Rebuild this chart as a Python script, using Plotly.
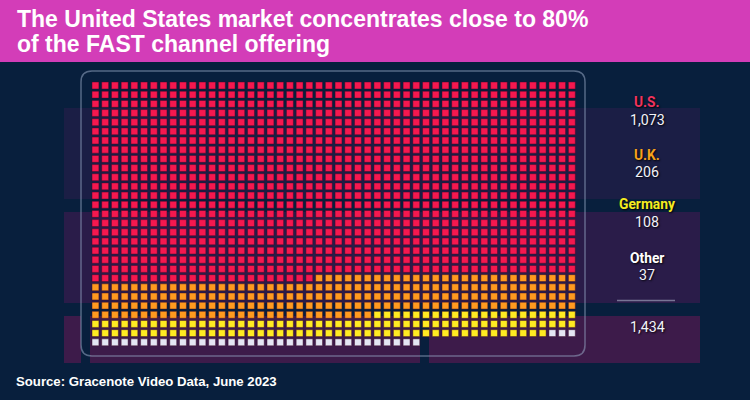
import plotly.graph_objects as go

W, H = 750, 400

# ---- data -------------------------------------------------------------
countries = ["U.S.", "U.K.", "Germany", "Other"]
channel_counts = [1073, 206, 108, 37]          # numbers printed in the legend
total_channels = 1434                           # total printed in the legend
squares_drawn = [1073, 206, 118, 37]           # squares counted in the waffle
square_colors = ["#F5184F", "#FF9A1F", "#FFEB22", "#E4E6F4"]
label_colors = ["#F0335F", "#F7A21B", "#F4EC20", "#FFFFFF"]
n_cols = 50

title_lines = ["The United States market concentrates close to 80%",
               "of the FAST channel offering"]
source_text = "Source: Gracenote Video Data, June 2023"


def fx(x):
    return x / W


def fy(y):
    return 1 - y / H


fig = go.Figure()

start = 0
for name, n, c in zip(countries, squares_drawn, square_colors):
    idx = list(range(start, start + n))
    fig.add_trace(go.Scatter(
        x=[i % n_cols for i in idx],
        y=[i // n_cols for i in idx],
        mode="markers",
        name=name,
        hoverinfo="skip",
        marker=dict(symbol="square", size=6.9, color=c,
                    line=dict(width=1, color="rgba(60,8,40,0.45)")),
    ))
    start += n
n_rows = -(-start // n_cols)

shapes = []
# banner
shapes.append(dict(type="rect", xref="paper", yref="paper", x0=0, x1=1,
                   y0=fy(62), y1=1, fillcolor="#D33DB8", line_width=0, layer="below"))


def panel(x0, x1, y0, y1, color):
    shapes.append(dict(type="rect", xref="paper", yref="paper",
                       x0=fx(x0), x1=fx(x1), y0=fy(y1), y1=fy(y0),
                       fillcolor=color, line_width=0, layer="below"))


panel(64, 700, 108, 199, "#1B1E45")
panel(64, 700, 212, 303, "#2A1C49")
panel(64, 81, 316, 363, "#3D1B4A")
panel(90, 420, 316, 363, "#3D1B4A")
panel(429, 700, 316, 363, "#3D1B4A")


def rounded_rect(x0, y0, x1, y1, r):
    pts = [
        ("M", [(x0 + r, y0)]),
        ("L", [(x1 - r, y0)]),
        ("Q", [(x1, y0), (x1, y0 + r)]),
        ("L", [(x1, y1 - r)]),
        ("Q", [(x1, y1), (x1 - r, y1)]),
        ("L", [(x0 + r, y1)]),
        ("Q", [(x0, y1), (x0, y1 - r)]),
        ("L", [(x0, y0 + r)]),
        ("Q", [(x0, y0), (x0 + r, y0)]),
    ]
    s = ""
    for cmd, ps in pts:
        s += cmd + " ".join(f"{fx(a):.5f},{fy(b):.5f}" for a, b in ps) + " "
    return s + "Z"


shapes.append(dict(type="path", xref="paper", yref="paper",
                   path=rounded_rect(81, 71, 585, 356, 11),
                   line=dict(color="rgba(150,165,195,0.55)", width=1.5),
                   fillcolor="rgba(0,0,0,0)", layer="below"))

# separator line above the total
shapes.append(dict(type="line", xref="paper", yref="paper",
                   x0=fx(617), x1=fx(675), y0=fy(300.5), y1=fy(300.5),
                   line=dict(color="rgba(140,140,170,0.8)", width=1.5)))

annotations = []
title_font = dict(family="Liberation Sans, Arial, sans-serif",
                  size=23, color="white", weight="bold")
for i, line in enumerate(title_lines):
    annotations.append(dict(text=line, xref="paper", yref="paper", x=fx(15), y=fy(18.5 + 25 * i),
                            xanchor="left", yanchor="middle", showarrow=False, font=title_font))

annotations.append(dict(text=source_text, xref="paper", yref="paper", x=fx(14), y=fy(381),
                        xanchor="left", yanchor="middle", showarrow=False,
                        font=dict(family="Liberation Sans, Arial, sans-serif",
                                  size=13.2, color="white", weight="bold")))

label_y = [(102, 120), (154.5, 172), (204, 221.5), (257.5, 275)]
shadow = "1px 1px 2px rgba(0,0,0,0.9)"
for name, cnt, col, (ly, ny) in zip(countries, channel_counts, label_colors, label_y):
    annotations.append(dict(text=name, xref="paper", yref="paper", x=fx(647), y=fy(ly),
                            xanchor="center", yanchor="middle", showarrow=False,
                            font=dict(family="Roboto, Inter, sans-serif", size=13.8,
                                      color=col, weight="bold", shadow=shadow)))
    annotations.append(dict(text=f"{cnt:,}", xref="paper", yref="paper", x=fx(647), y=fy(ny),
                            xanchor="center", yanchor="middle", showarrow=False,
                            font=dict(family="Roboto, Inter, sans-serif", size=14.2,
                                      color="#F2F2F8", shadow=shadow)))
annotations.append(dict(text=f"{total_channels:,}", xref="paper", yref="paper", x=fx(647), y=fy(326.5),
                        xanchor="center", yanchor="middle", showarrow=False,
                        font=dict(family="Roboto, Inter, sans-serif", size=14.2,
                                  color="#F2F2F8", shadow=shadow)))

fig.update_layout(
    width=W, height=H,
    margin=dict(l=0, r=0, t=0, b=0),
    paper_bgcolor="#081F3D",
    plot_bgcolor="rgba(0,0,0,0)",
    showlegend=False,
    shapes=shapes,
    annotations=annotations,
    xaxis=dict(range=[-0.5, n_cols - 0.5], domain=[fx(90.6), fx(576.7)],
               visible=False, fixedrange=True),
    yaxis=dict(range=[n_rows - 0.5, -0.5], domain=[fy(346.9), fy(80.9)],
               visible=False, fixedrange=True),
)

fig.write_html("out.html", config={"displayModeBar": False},
               post_script="document.body.style.margin='0';document.body.style.overflow='hidden';")
